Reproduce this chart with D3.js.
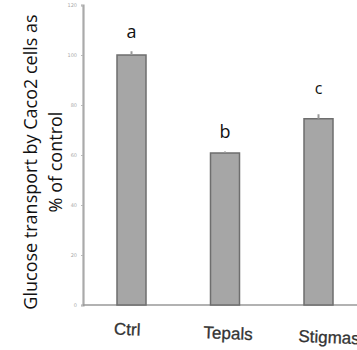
<!DOCTYPE html>
<html>
<head>
<meta charset="utf-8">
<script src="https://cdn.jsdelivr.net/npm/d3@7"></script>
<style>
  body { margin: 0; background: #fff; }
  svg { display: block; }
</style>
</head>
<body>
<svg id="chart" width="357" height="350"></svg>
<script>
const categories = ['Ctrl', 'Tepals', 'Stigmas'];
const values = [100, 60.8, 74.5];
const errors = [1.5, 0.6, 1.8];
const letters = ['a', 'b', 'c'];
const yTicks = [0, 20, 40, 60, 80, 100, 120];

const svg = d3.select('#chart');
const margin = { left: 83, top: 5, bottom: 45 };
const height = +svg.attr('height');

const y = d3.scaleLinear()
  .domain([0, 120])
  .range([height - margin.bottom, margin.top]);

const x = d3.scalePoint()
  .domain(categories)
  .range([131.5, 318.5]);

// the category labels sit a bit wider apart and slightly tilted
const xLabel = d3.scalePoint()
  .domain(categories)
  .range([127, 329]);

const barW = 29;

// y axis
const yAxis = svg.append('g')
  .attr('transform', `translate(${margin.left},0)`)
  .call(d3.axisLeft(y).tickValues(yTicks).tickSize(2).tickPadding(4));
yAxis.select('.domain').attr('stroke', '#aaa').attr('stroke-width', 2.2);
yAxis.selectAll('.tick line').attr('stroke', '#bbb');
yAxis.selectAll('.tick text')
  .attr('fill', '#aaa')
  .style('font-family', 'DejaVu Sans')
  .style('font-size', '5px');

// baseline
svg.append('line')
  .attr('x1', margin.left).attr('x2', 357)
  .attr('y1', y(0)).attr('y2', y(0))
  .attr('stroke', '#999').attr('stroke-width', 1.5);

// bars
svg.selectAll('rect.bar').data(categories)
  .enter().append('rect')
  .attr('class', 'bar')
  .attr('x', d => x(d) - barW / 2)
  .attr('width', barW)
  .attr('y', (d, i) => y(values[i]))
  .attr('height', (d, i) => y(0) - y(values[i]))
  .attr('fill', '#a6a6a6')
  .attr('stroke', '#6e6e6e')
  .attr('stroke-width', 1.5);

// error bars
svg.selectAll('line.err').data(categories)
  .enter().append('line')
  .attr('class', 'err')
  .attr('x1', d => x(d)).attr('x2', d => x(d))
  .attr('y1', (d, i) => y(values[i]))
  .attr('y2', (d, i) => y(values[i] + errors[i]))
  .attr('stroke', '#999').attr('stroke-width', 2);

// significance letters
const letterGap = [13, 14, 20];
svg.selectAll('text.letter').data(letters)
  .enter().append('text')
  .attr('class', 'letter')
  .attr('x', (d, i) => x(categories[i]))
  .attr('y', (d, i) => y(values[i] + errors[i]) - letterGap[i])
  .attr('text-anchor', 'middle')
  .style('font-family', 'Open Sans')
  .style('font-size', (d, i) => i === 2 ? '16px' : '18px')
  .attr('fill', '#111')
  .text(d => d);

// category labels
const labelG = svg.append('g')
  .attr('transform', 'rotate(2.3, 127, 335)');
labelG.selectAll('text.cat').data(categories)
  .enter().append('text')
  .attr('class', 'cat')
  .attr('x', d => xLabel(d))
  .attr('y', 335)
  .attr('text-anchor', 'middle')
  .style('font-family', 'Liberation Sans Narrow, Liberation Sans')
  .style('font-size', '17px')
  .attr('fill', '#333')
  .attr('stroke', '#333')
  .attr('stroke-width', 0.3)
  .text(d => d);

// y title
const title = svg.append('text')
  .attr('transform', `translate(0,162) rotate(-90)`)
  .attr('text-anchor', 'middle')
  .style('font-family', 'Open Sans')
  .style('font-size', '18px')
  .attr('fill', '#111');
title.append('tspan').attr('x', 0).attr('y', 37).text('Glucose transport by Caco2 cells as');
title.append('tspan').attr('x', 0).attr('y', 62).text('% of control');
</script>
</body>
</html>
